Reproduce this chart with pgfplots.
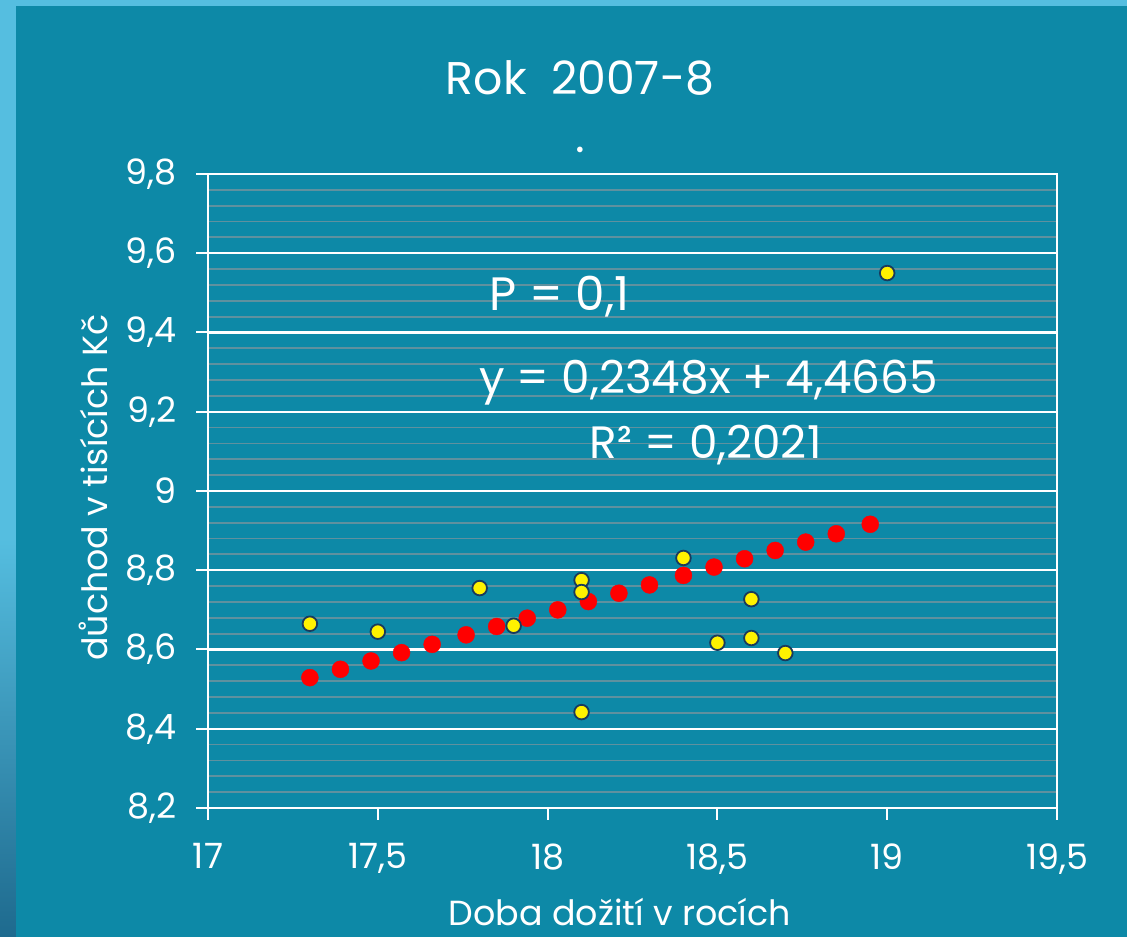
\documentclass[border=0pt]{standalone}
\usepackage{pgfplots}
\pgfplotsset{compat=1.18}
\usepackage{fontspec}
\setmainfont{Poppins}

\definecolor{slidebg}{HTML}{0D89A7}
\definecolor{stripe}{HTML}{55BEE0}
\definecolor{stripedark}{HTML}{1E6A8E}
\definecolor{minorgrid}{HTML}{5F919F}
\definecolor{ptedge}{HTML}{1A3A5C}

% observed values
\pgfplotstableread{
x y
17.3 8.665
17.5 8.645
17.8 8.755
17.9 8.660
18.1 8.775
18.1 8.745
18.1 8.442
18.4 8.831
18.5 8.617
18.6 8.727
18.6 8.629
18.7 8.591
19.0 9.550
}\observed

% points on the fitted line
\pgfplotstableread{
x y
17.30 8.529
17.39 8.550
17.48 8.571
17.57 8.592
17.66 8.613
17.76 8.637
17.85 8.658
17.94 8.679
18.03 8.700
18.12 8.721
18.21 8.742
18.30 8.763
18.40 8.787
18.49 8.808
18.58 8.829
18.67 8.850
18.76 8.871
18.85 8.892
18.95 8.916
}\fitted

\begin{document}
\begin{tikzpicture}[x=1bp,y=1bp]
\useasboundingbox (0,0) rectangle (1127,937);
\fill[stripe] (0,0) rectangle (1127,937);
\shade[top color=stripe, bottom color=stripedark] (0,0) rectangle (16,400);
\fill[slidebg] (16,0) rectangle (1127,931);

\node[text=white, font=\fontsize{46}{50}\selectfont] at (580,859) {Rok\ \ 2007-8};
\node[text=white, font=\fontsize{46}{50}\selectfont, anchor=base] at (580,784) {.};

\begin{axis}[
  at={(208bp,129bp)}, anchor=south west,
  width=849bp, height=634bp, scale only axis,
  xmin=17, xmax=19.5, ymin=8.2, ymax=9.8,
  xtick={17,17.5,...,19.5},
  ytick={8.2,8.4,...,9.8},
  minor y tick num=4,
  ymajorgrids, yminorgrids,
  major grid style={white, line width=2.2bp},
  minor grid style={minorgrid, line width=1.8bp},
  axis line style={white, line width=2bp},
  tick align=outside,
  major tick length=12bp, minor tick length=0pt,
  tick style={white, line width=2bp},
  xtick pos=bottom, ytick pos=left,
  /pgf/number format/.cd, use comma, fixed, precision=1, assume math mode=true,
  /pgfplots/.cd,
  ticklabel style={text=white, font=\fontsize{35}{38}\selectfont},
  yticklabel style={xshift=-16bp},
  xticklabel style={yshift=-20bp},
  xlabel={Doba dožití v rocích},
  ylabel={důchod v tisících Kč},
  label style={text=white, font=\fontsize{35}{38}\selectfont},
  xlabel style={at={(axis description cs:0.485,-0.164)}, anchor=center},
  ylabel style={at={(axis description cs:-0.135,0.505)}, anchor=center, rotate=0},
  clip=false,
]
\addplot[only marks, mark=*, mark size=8.5bp, draw=none, fill=red,
  mark options={draw=red, fill=red}] table {\fitted};
\addplot[only marks, mark=*, mark size=7.3bp,
  mark options={draw=ptedge, fill=yellow, line width=1.8bp}] table {\observed};

\node[text=white, font=\fontsize{47}{50}\selectfont, anchor=west] at (axis cs:17.82,9.49) {P = 0,1};
\node[text=white, font=\fontsize{45.5}{50}\selectfont] at (axis cs:18.474,9.273) {y = 0,2348x + 4,4665};
\node[text=white, font=\fontsize{45.5}{50}\selectfont] at (axis cs:18.465,9.116) {R² = 0,2021};
\end{axis}
\end{tikzpicture}
\end{document}
